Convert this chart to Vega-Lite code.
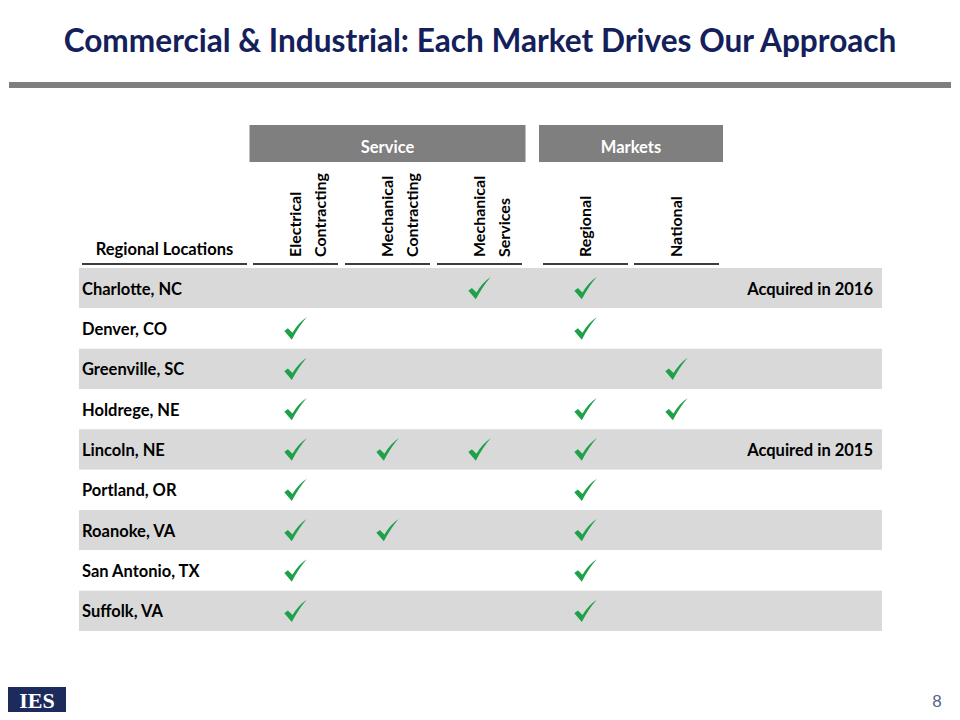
{
  "$schema": "https://vega.github.io/schema/vega-lite/v6.json",
  "width": 960,
  "height": 640,
  "autosize": {"type": "none"},
  "padding": {"top": 80, "left": 0, "right": 0, "bottom": 0},
  "background": "white",
  "title": {
    "text": "Commercial & Industrial: Each Market Drives Our Approach",
    "font": "Lato",
    "fontSize": 31.6,
    "fontWeight": "bold",
    "color": "#14205a",
    "anchor": "middle",
    "frame": "group",
    "baseline": "alphabetic",
    "offset": -4
  },
  "config": {"view": {"stroke": null}, "font": "Lato"},
  "datasets": {
    "columns": [
      {"column": "Electrical Contracting", "label": ["Electrical", "Contracting"], "group": "Service", "rank": 1},
      {"column": "Mechanical Contracting", "label": ["Mechanical", "Contracting"], "group": "Service", "rank": 2},
      {"column": "Mechanical Services", "label": ["Mechanical", "Services"], "group": "Service", "rank": 3},
      {"column": "Regional", "label": ["Regional"], "group": "Markets", "rank": 4},
      {"column": "National", "label": ["National"], "group": "Markets", "rank": 5}
    ],
    "locations": [
      {"location": "Charlotte, NC", "note": "Acquired in 2016"},
      {"location": "Denver, CO", "note": null},
      {"location": "Greenville, SC", "note": null},
      {"location": "Holdrege, NE", "note": null},
      {"location": "Lincoln, NE", "note": "Acquired in 2015"},
      {"location": "Portland, OR", "note": null},
      {"location": "Roanoke, VA", "note": null},
      {"location": "San Antonio, TX", "note": null},
      {"location": "Suffolk, VA", "note": null}
    ],
    "checks": [
      {"location": "Charlotte, NC", "column": "Mechanical Services"},
      {"location": "Charlotte, NC", "column": "Regional"},
      {"location": "Denver, CO", "column": "Electrical Contracting"},
      {"location": "Denver, CO", "column": "Regional"},
      {"location": "Greenville, SC", "column": "Electrical Contracting"},
      {"location": "Greenville, SC", "column": "National"},
      {"location": "Holdrege, NE", "column": "Electrical Contracting"},
      {"location": "Holdrege, NE", "column": "Regional"},
      {"location": "Holdrege, NE", "column": "National"},
      {"location": "Lincoln, NE", "column": "Electrical Contracting"},
      {"location": "Lincoln, NE", "column": "Mechanical Contracting"},
      {"location": "Lincoln, NE", "column": "Mechanical Services"},
      {"location": "Lincoln, NE", "column": "Regional"},
      {"location": "Portland, OR", "column": "Electrical Contracting"},
      {"location": "Portland, OR", "column": "Regional"},
      {"location": "Roanoke, VA", "column": "Electrical Contracting"},
      {"location": "Roanoke, VA", "column": "Mechanical Contracting"},
      {"location": "Roanoke, VA", "column": "Regional"},
      {"location": "San Antonio, TX", "column": "Electrical Contracting"},
      {"location": "San Antonio, TX", "column": "Regional"},
      {"location": "Suffolk, VA", "column": "Electrical Contracting"},
      {"location": "Suffolk, VA", "column": "Regional"}
    ],
    "decor": [{"part": "title rule"}]
  },
  "layer": [
    {
      "data": {"name": "decor"},
      "mark": {"type": "rect", "color": "#7f7f7f"},
      "encoding": {
        "x": {"field": "part", "type": "nominal", "scale": {"type": "band", "range": [9, 951], "paddingInner": 0, "paddingOuter": 0}, "axis": null},
        "y": {"field": "part", "type": "nominal", "scale": {"type": "band", "range": [2, 8], "paddingInner": 0, "paddingOuter": 0}, "axis": null}
      }
    },
    {
      "data": {"name": "columns"},
      "transform": [
        {"aggregate": [{"op": "count", "as": "n"}, {"op": "mean", "field": "rank", "as": "center"}], "groupby": ["group"]}
      ],
      "mark": {"type": "tick", "orient": "horizontal", "thickness": 37, "color": "#7f7f7f", "opacity": 1},
      "encoding": {
        "x": {"field": "center", "type": "quantitative", "scale": {"domain": [1, 2, 3, 4, 5], "range": [295.5, 387.5, 479.5, 585.5, 676.5]}, "axis": null},
        "y": {"datum": "group header", "type": "nominal", "scale": {"type": "band", "range": [45, 82], "paddingInner": 0, "paddingOuter": 0}, "axis": null},
        "size": {"field": "n", "type": "quantitative", "scale": {"domain": [0, 3], "range": [0, 276]}, "legend": null}
      }
    },
    {
      "data": {"name": "columns"},
      "transform": [
        {"aggregate": [{"op": "count", "as": "n"}, {"op": "mean", "field": "rank", "as": "center"}], "groupby": ["group"]}
      ],
      "mark": {"type": "text", "color": "white", "fontSize": 16.5, "fontWeight": "bold", "align": "center", "baseline": "middle"},
      "encoding": {
        "x": {"field": "center", "type": "quantitative", "scale": {"domain": [1, 2, 3, 4, 5], "range": [295.5, 387.5, 479.5, 585.5, 676.5]}, "axis": null},
        "y": {"datum": "group header", "type": "nominal", "scale": {"type": "band", "range": [47, 89], "paddingInner": 0, "paddingOuter": 0}, "axis": null},
        "text": {"field": "group", "type": "nominal"}
      }
    },
    {
      "data": {"name": "columns"},
      "mark": {"type": "text", "angle": 270, "align": "left", "baseline": "middle", "fontSize": 16, "fontWeight": "bold", "lineHeight": 25, "color": "#000000"},
      "encoding": {
        "x": {"field": "rank", "type": "quantitative", "scale": {"domain": [1, 2, 3, 4, 5], "range": [295.5, 387.5, 479.5, 585.5, 676.5]}, "axis": null},
        "y": {"datum": "column label", "type": "nominal", "scale": {"type": "band", "range": [176, 178], "paddingInner": 0, "paddingOuter": 0}, "axis": null},
        "text": {"field": "label", "type": "nominal"}
      }
    },
    {
      "data": {"name": "columns"},
      "mark": {"type": "tick", "orient": "horizontal", "thickness": 2, "color": "#3c3c3c", "opacity": 1},
      "encoding": {
        "x": {"field": "rank", "type": "quantitative", "scale": {"domain": [1, 2, 3, 4, 5], "range": [295.5, 387.5, 479.5, 585.5, 676.5]}, "axis": null},
        "y": {"datum": "underline", "type": "nominal", "scale": {"type": "band", "range": [183, 185], "paddingInner": 0, "paddingOuter": 0}, "axis": null},
        "size": {"value": 85}
      }
    },
    {
      "data": {"values": [{"header": "Regional Locations"}]},
      "layer": [
        {
          "mark": {"type": "text", "fontSize": 16.5, "fontWeight": "bold", "align": "center", "baseline": "middle", "color": "#000000"},
          "encoding": {
            "x": {"field": "header", "type": "nominal", "scale": {"type": "band", "range": [82, 247], "paddingInner": 0, "paddingOuter": 0}, "axis": null},
            "y": {"datum": "column label", "type": "nominal", "scale": {"type": "band", "range": [160, 180], "paddingInner": 0, "paddingOuter": 0}, "axis": null},
            "text": {"field": "header", "type": "nominal"}
          }
        },
        {
          "mark": {"type": "rect", "color": "#3c3c3c"},
          "encoding": {
            "x": {"field": "header", "type": "nominal", "scale": {"type": "band", "range": [82, 247], "paddingInner": 0, "paddingOuter": 0}, "axis": null},
            "y": {"datum": "underline", "type": "nominal", "scale": {"type": "band", "range": [183, 185], "paddingInner": 0, "paddingOuter": 0}, "axis": null}
          }
        }
      ],
      "resolve": {"scale": {"y": "independent"}}
    },
    {
      "layer": [
        {
          "data": {"name": "locations"},
          "transform": [{"window": [{"op": "row_number", "as": "idx"}]}],
          "mark": {"type": "rect"},
          "encoding": {
            "x": {"datum": "table row", "type": "nominal", "scale": {"type": "band", "range": [79, 882], "paddingInner": 0, "paddingOuter": 0}, "axis": null},
            "y": {"field": "location", "type": "nominal", "sort": null, "scale": {"type": "band", "domain": ["Charlotte, NC", "Denver, CO", "Greenville, SC", "Holdrege, NE", "Lincoln, NE", "Portland, OR", "Roanoke, VA", "San Antonio, TX", "Suffolk, VA"], "range": [188, 551], "paddingInner": 0, "paddingOuter": 0}, "axis": null},
            "color": {"condition": {"test": "datum.idx % 2 === 1", "value": "#d9d9d9"}, "value": "#ffffff"}
          }
        },
        {
          "data": {"name": "locations"},
          "mark": {"type": "text", "align": "left", "baseline": "middle", "fontSize": 16.5, "fontWeight": "bold", "color": "#000000", "dy": 1.5},
          "encoding": {
            "x": {"datum": "Regional Locations", "type": "nominal", "bandPosition": 0, "scale": {"type": "band", "range": [82, 247], "paddingInner": 0, "paddingOuter": 0}, "axis": null},
            "y": {"field": "location", "type": "nominal", "sort": null, "scale": {"type": "band", "domain": ["Charlotte, NC", "Denver, CO", "Greenville, SC", "Holdrege, NE", "Lincoln, NE", "Portland, OR", "Roanoke, VA", "San Antonio, TX", "Suffolk, VA"], "range": [188, 551], "paddingInner": 0, "paddingOuter": 0}, "axis": null},
            "text": {"field": "location", "type": "nominal"}
          }
        },
        {
          "data": {"name": "locations"},
          "transform": [{"filter": "isValid(datum.note)"}],
          "mark": {"type": "text", "align": "right", "baseline": "middle", "fontSize": 16.5, "fontWeight": "bold", "color": "#000000", "dy": 1.5},
          "encoding": {
            "x": {"datum": "Note", "type": "nominal", "bandPosition": 1, "scale": {"type": "band", "range": [720, 873], "paddingInner": 0, "paddingOuter": 0}, "axis": null},
            "y": {"field": "location", "type": "nominal", "sort": null, "scale": {"type": "band", "domain": ["Charlotte, NC", "Denver, CO", "Greenville, SC", "Holdrege, NE", "Lincoln, NE", "Portland, OR", "Roanoke, VA", "San Antonio, TX", "Suffolk, VA"], "range": [188, 551], "paddingInner": 0, "paddingOuter": 0}, "axis": null},
            "text": {"field": "note", "type": "nominal"}
          }
        },
        {
          "data": {"name": "checks"},
          "transform": [
            {"lookup": "column", "from": {"data": {"name": "columns"}, "key": "column", "fields": ["rank"]}}
          ],
          "mark": {"type": "point", "filled": true, "opacity": 1, "color": "#1fa149", "size": 500, "shape": "M-1,0.22 L-0.68,-0.02 L-0.27,0.38 Q0.25,-0.5 1,-1 Q0.3,-0.2 -0.33,1 Z"},
          "encoding": {
            "x": {"field": "rank", "type": "quantitative", "scale": {"domain": [1, 2, 3, 4, 5], "range": [295.5, 387.5, 479.5, 585.5, 676.5]}, "axis": null},
            "y": {"field": "location", "type": "nominal", "sort": null, "scale": {"type": "band", "domain": ["Charlotte, NC", "Denver, CO", "Greenville, SC", "Holdrege, NE", "Lincoln, NE", "Portland, OR", "Roanoke, VA", "San Antonio, TX", "Suffolk, VA"], "range": [189, 552], "paddingInner": 0, "paddingOuter": 0}, "axis": null}
          }
        }
      ],
      "resolve": {"scale": {"x": "independent"}}
    },
    {
      "data": {"values": [{"logo": "IES"}]},
      "layer": [
        {
          "mark": {"type": "rect", "color": "#1c2a5c"},
          "encoding": {
            "x": {"field": "logo", "type": "nominal", "scale": {"type": "band", "range": [8, 66], "paddingInner": 0, "paddingOuter": 0}, "axis": null},
            "y": {"field": "logo", "type": "nominal", "scale": {"type": "band", "range": [607, 632], "paddingInner": 0, "paddingOuter": 0}, "axis": null}
          }
        },
        {
          "mark": {"type": "text", "color": "white", "font": "Liberation Serif", "fontWeight": "bold", "fontSize": 22, "align": "center", "baseline": "middle"},
          "encoding": {
            "x": {"field": "logo", "type": "nominal", "scale": {"type": "band", "range": [8, 66], "paddingInner": 0, "paddingOuter": 0}, "axis": null},
            "y": {"field": "logo", "type": "nominal", "scale": {"type": "band", "range": [608, 633], "paddingInner": 0, "paddingOuter": 0}, "axis": null},
            "text": {"field": "logo", "type": "nominal"}
          }
        }
      ],
      "resolve": {"scale": {"y": "independent"}}
    },
    {
      "data": {"values": [{"page": "8"}]},
      "mark": {"type": "text", "color": "#53658a", "fontSize": 17, "font": "Liberation Sans", "align": "center", "baseline": "middle"},
      "encoding": {
        "x": {"field": "page", "type": "nominal", "scale": {"type": "band", "range": [930, 944], "paddingInner": 0, "paddingOuter": 0}, "axis": null},
        "y": {"field": "page", "type": "nominal", "scale": {"type": "band", "range": [612, 632], "paddingInner": 0, "paddingOuter": 0}, "axis": null},
        "text": {"field": "page", "type": "nominal"}
      }
    }
  ],
  "resolve": {"scale": {"x": "independent", "y": "independent", "size": "independent", "color": "independent"}}
}
